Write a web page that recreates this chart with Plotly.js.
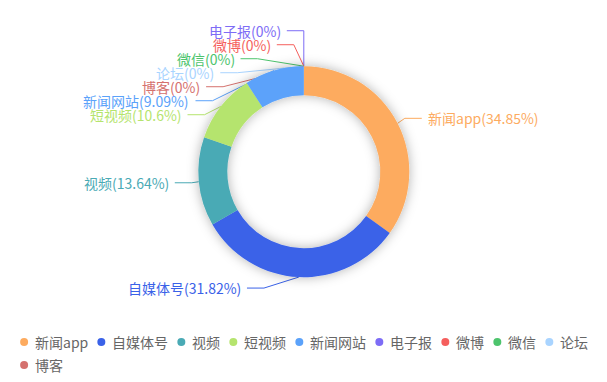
<!DOCTYPE html>
<html>
<head>
<meta charset="utf-8">
<script src="https://cdn.plot.ly/plotly-3.0.1.min.js"></script>
<style>html,body{margin:0;padding:0;background:#fff}#chart{width:607px;height:382px}</style>
</head>
<body>
<div id="chart"></div>
<script>
// ---- data ----
const categories = ['新闻app','自媒体号','视频','短视频','新闻网站','电子报','微博','微信','论坛','博客'];
const counts = [23, 21, 9, 7, 6, 0, 0, 0, 0, 0];
const colors = ['#fdab5f','#3a62e8','#4aaab5','#b5e46e','#5ba2fa','#7d6cf6','#f55f5d','#4dc46d','#a9d4ff','#d5716e'];

// ---- layout constants ----
const W = 607, H = 382;
const CX = 303.8, CY = 171.7, R = 105.5, HOLE = 0.725;
const LEN = 11, LEN2 = 17, XR = R + 24, LABEL_H = 14, LABEL_GAP = 5;
const FONT = '"Noto Sans CJK SC", "Noto Sans", sans-serif';
const px = x => x / W, py = y => 1 - y / H;

// percentages (largest remainder, 2 decimals)
function percents(vals, prec) {
  const sum = vals.reduce((a, b) => a + b, 0);
  const d = Math.pow(10, prec), target = 100 * d;
  const quota = vals.map(v => v / sum * target);
  const seats = quota.map(Math.floor);
  const rem = quota.map((q, i) => q - seats[i]);
  let cur = seats.reduce((a, b) => a + b, 0);
  while (cur < target) {
    let mx = -1, mi = -1;
    rem.forEach((r, i) => { if (r > mx) { mx = r; mi = i; } });
    seats[mi]++; rem[mi] = 0; cur++;
  }
  return seats.map(s => s / d);
}
const pct = percents(counts, 2);
const total = counts.reduce((a, b) => a + b, 0);

// ---- outside label layout ----
let cum = 0;
const items = counts.map((v, i) => {
  const mid = 2 * Math.PI * (cum + v / 2) / total; cum += v;
  const s = Math.sin(mid), c = Math.cos(mid);
  const x1 = CX + (R + LEN) * s, y1 = CY - (R + LEN) * c;
  return { i, x0: CX + R * s, y0: CY - R * c, dir: x1 < CX ? -1 : 1, y: y1,
           origDX: Math.abs(x1 - CX) + LEN2, shift: 0 };
});
function layoutSide(list) {
  const n = list.length;
  if (!n) return;
  list.sort((a, b) => a.y - b.y);
  let last = -Infinity;
  list.forEach(it => { const ny = Math.max(it.y, last + LABEL_H); it.shift = ny - it.y; it.y = ny; last = ny; });
  let start = 0;
  for (let k = 1; k <= n; k++) {
    if (k === n || list[k].y - list[k - 1].y > LABEL_H + 0.01) {
      let tot = 0;
      for (let j = start; j < k; j++) tot += list[j].shift;
      if (tot > 0) for (let j = start; j < k; j++) list[j].y -= tot / (n + 1);
      start = k;
    }
  }
  const up = list.filter(it => it.y < CY), down = list.filter(it => it.y >= CY);
  let lastDX = 0;
  up.forEach(it => {
    const dy = Math.abs(it.y - CY);
    let dx = dy < R + LEN ? Math.sqrt(XR * XR - dy * dy) : it.origDX;
    if (dx <= lastDX) dx = lastDX + 10;
    it.lx = CX + it.dir * dx; lastDX = dx;
  });
  lastDX = Infinity;
  down.forEach(it => {
    const dy = Math.abs(it.y - CY);
    let dx = dy < R + LEN ? Math.sqrt(XR * XR - dy * dy) : it.origDX;
    if (dx >= lastDX) dx = lastDX - 10;
    it.lx = CX + it.dir * dx; lastDX = dx;
  });
}
layoutSide(items.filter(it => it.dir < 0));
layoutSide(items.filter(it => it.dir > 0));

const shapes = [], annotations = [];
items.forEach(it => {
  const kx = it.lx - it.dir * LEN2;
  shapes.push({ type: 'path', xref: 'paper', yref: 'paper', layer: 'below',
    path: `M ${px(it.x0)} ${py(it.y0)} L ${px(kx)} ${py(it.y)} L ${px(it.lx)} ${py(it.y)}`,
    line: { color: colors[it.i], width: 1 } });
  annotations.push({ xref: 'paper', yref: 'paper', showarrow: false, borderpad: 0,
    x: px(it.lx + it.dir * LABEL_GAP), y: py(it.y),
    xanchor: it.dir < 0 ? 'right' : 'left', yanchor: 'middle',
    text: `${categories[it.i]}(${pct[it.i]}%)`,
    font: { family: FONT, size: 14, color: colors[it.i] } });
});

// ---- legend (dots + text) ----
const ctx = document.createElement('canvas').getContext('2d');
ctx.font = '14px "Noto Sans CJK SC"';
const LEG_X0 = 24.1, LEG_Y0 = 342, LEG_ROW = 23, DOT_R = 4, DOT_TXT = 9.5, ITEM_GAP = 14.5;
let lx = LEG_X0, row = 0;
categories.forEach((name, i) => {
  const w = ctx.measureText(name).width;
  if (i > 0 && lx + DOT_TXT + w > W - 6) { row++; lx = LEG_X0; }
  const ly = LEG_Y0 + row * LEG_ROW;
  shapes.push({ type: 'circle', xref: 'paper', yref: 'paper',
    x0: px(lx - DOT_R), x1: px(lx + DOT_R), y0: py(ly + DOT_R), y1: py(ly - DOT_R),
    fillcolor: colors[i], line: { width: 0 } });
  annotations.push({ xref: 'paper', yref: 'paper', showarrow: false, borderpad: 0,
    x: px(lx + DOT_TXT), y: py(ly), xanchor: 'left', yanchor: 'middle',
    text: name, font: { family: FONT, size: 14, color: '#666666' } });
  lx += DOT_TXT + w + ITEM_GAP;
});

const trace = {
  type: 'pie', labels: categories, values: counts,
  marker: { colors: colors, line: { width: 0 } },
  hole: HOLE, sort: false, direction: 'clockwise', rotation: 0,
  textinfo: 'none', hoverinfo: 'none', showlegend: false,
  domain: { x: [px(CX - R), px(CX + R)], y: [py(CY + R), py(CY - R)] }
};

const layout = {
  width: W, height: H, margin: { l: 0, r: 0, t: 0, b: 0 },
  paper_bgcolor: '#ffffff', plot_bgcolor: '#ffffff',
  showlegend: false, shapes: shapes, annotations: annotations,
  font: { family: FONT }
};

Plotly.newPlot('chart', [trace], layout, { displayModeBar: false, staticPlot: true }).then(gd => {
  const NS = 'http://www.w3.org/2000/svg';
  const svg = gd.querySelector('svg.main-svg');
  let defs = svg.querySelector('defs');
  if (!defs) { defs = document.createElementNS(NS, 'defs'); svg.insertBefore(defs, svg.firstChild); }
  const f = document.createElementNS(NS, 'filter');
  f.setAttribute('id', 'pieShadow');
  f.setAttribute('x', '-30%'); f.setAttribute('y', '-30%');
  f.setAttribute('width', '160%'); f.setAttribute('height', '160%');
  const ds = document.createElementNS(NS, 'feDropShadow');
  ds.setAttribute('dx', '0'); ds.setAttribute('dy', '0');
  ds.setAttribute('stdDeviation', '6');
  ds.setAttribute('flood-color', '#000000'); ds.setAttribute('flood-opacity', '0.3');
  f.appendChild(ds); defs.appendChild(f);
  gd.querySelectorAll('.pielayer .trace').forEach(t => t.setAttribute('filter', 'url(#pieShadow)'));
});
</script>
</body>
</html>
